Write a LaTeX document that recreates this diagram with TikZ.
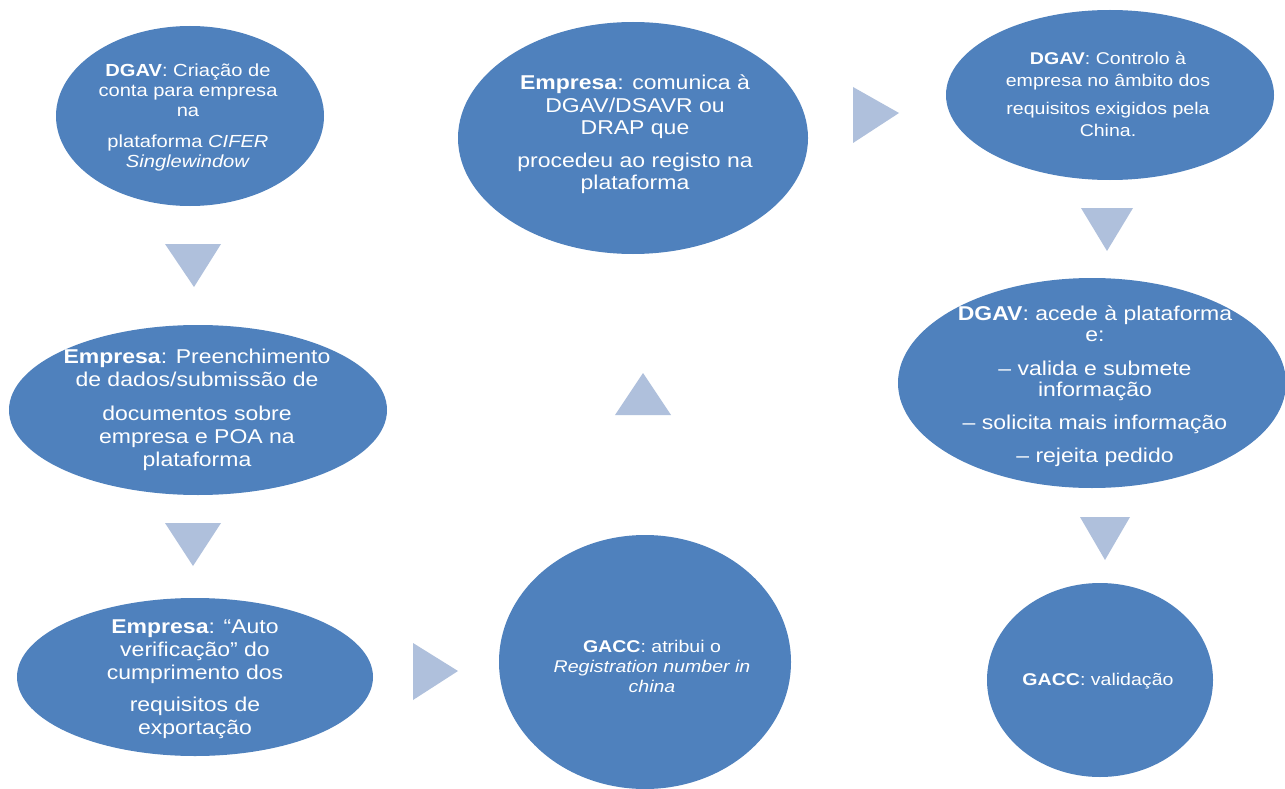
\documentclass[tikz,border=0pt]{standalone}
\usepackage{fontspec}
\setmainfont{Liberation Sans}[FakeStretch=1.15]
\usetikzlibrary{shapes.geometric}
\definecolor{ellblue}{HTML}{4F81BD}
\definecolor{triblue}{HTML}{AFC0DC}
\tikzset{
  ell/.style={ellipse, fill=ellblue, draw=none, inner sep=0pt},
  tri/.style={fill=triblue, draw=none},
  txt/.style={anchor=base, text=white, inner sep=0pt},
}
\begin{document}
\begin{tikzpicture}[x=1pt,y=-1pt]
\useasboundingbox (0,0) rectangle (1285,789);
\fill[white] (0,0) rectangle (1285,789);
\clip (0,0) rectangle (1285,789);
% ellipses
\node[ell, minimum width=268pt, minimum height=180pt] (e1) at (190,116) {};
\node[ell, minimum width=350pt, minimum height=232pt] (e2) at (633,138) {};
\node[ell, minimum width=328pt, minimum height=170pt] (e3) at (1110,95) {};
\node[ell, minimum width=378pt, minimum height=170pt] (e4) at (198,410) {};
\node[ell, minimum width=388pt, minimum height=210pt] (e5) at (1092,383) {};
\node[ell, minimum width=356pt, minimum height=158pt] (e6) at (195,677) {};
\node[ell, minimum width=292pt, minimum height=254pt] (e7) at (645,662) {};
\node[ell, minimum width=226pt, minimum height=194pt] (e8) at (1100,680) {};
% triangles
\fill[tri] (165,244) -- (221,244) -- (194,287) -- cycle;
\fill[tri] (165,523) -- (221,523) -- (193,566) -- cycle;
\fill[tri] (413,643) -- (413,700) -- (458,671) -- cycle;
\fill[tri] (615,415) -- (671,415) -- (643,373) -- cycle;
\fill[tri] (853,87) -- (853,143) -- (899,113) -- cycle;
\fill[tri] (1081,208) -- (1133,208) -- (1107,251) -- cycle;
\fill[tri] (1080,517) -- (1130,517) -- (1105,560) -- cycle;
% texts
\node[txt] (t1) at (188,77) {\fontsize{17.5}{20}\selectfont\begin{tabular}[t]{@{}c@{}}\textbf{DGAV}: Criação de\\ conta para empresa\\ na\\[11pt] plataforma \textit{CIFER}\\ \textit{Singlewindow}\end{tabular}};
\node[txt] (t2) at (635,90) {\fontsize{20}{22.5}\selectfont\begin{tabular}[t]{@{}c@{}}\textbf{Empresa}: comunica à\\ DGAV/DSAVR ou\\ DRAP que\\[10pt] procedeu ao registo na\\ plataforma\end{tabular}};
\node[txt] (t3) at (1108,65) {\fontsize{17}{22}\selectfont\begin{tabular}[t]{@{}c@{}}\textbf{DGAV}: Controlo à\\ empresa no âmbito dos\\[6pt] requisitos exigidos pela\\ China.\end{tabular}};
\node[txt] (t4) at (197,363) {\fontsize{20}{23}\selectfont\begin{tabular}[t]{@{}c@{}}\textbf{Empresa}: Preenchimento\\ de dados/submissão de\\[11pt] documentos sobre\\ empresa e POA na\\ plataforma\end{tabular}};
\node[txt] (t5) at (1095,320) {\fontsize{20}{21}\selectfont\begin{tabular}[t]{@{}c@{}}\textbf{DGAV}: acede à plataforma\\ e:\\[13pt] – valida e submete\\ informação\\[12pt] – solicita mais informação\\[12pt] – rejeita pedido\end{tabular}};
\node[txt] (t6) at (195,633) {\fontsize{20}{23}\selectfont\begin{tabular}[t]{@{}c@{}}\textbf{Empresa}: “Auto\\ verificação” do\\ cumprimento dos\\[9pt] requisitos de\\ exportação\end{tabular}};
\node[txt] (t7) at (652,652) {\fontsize{17}{20}\selectfont\begin{tabular}[t]{@{}c@{}}\textbf{GACC}: atribui o\\ \textit{Registration number in}\\ \textit{china}\end{tabular}};
\node[txt] (t8) at (1098,685) {\fontsize{17}{20}\selectfont\textbf{GACC}: validação};
\end{tikzpicture}
\end{document}
